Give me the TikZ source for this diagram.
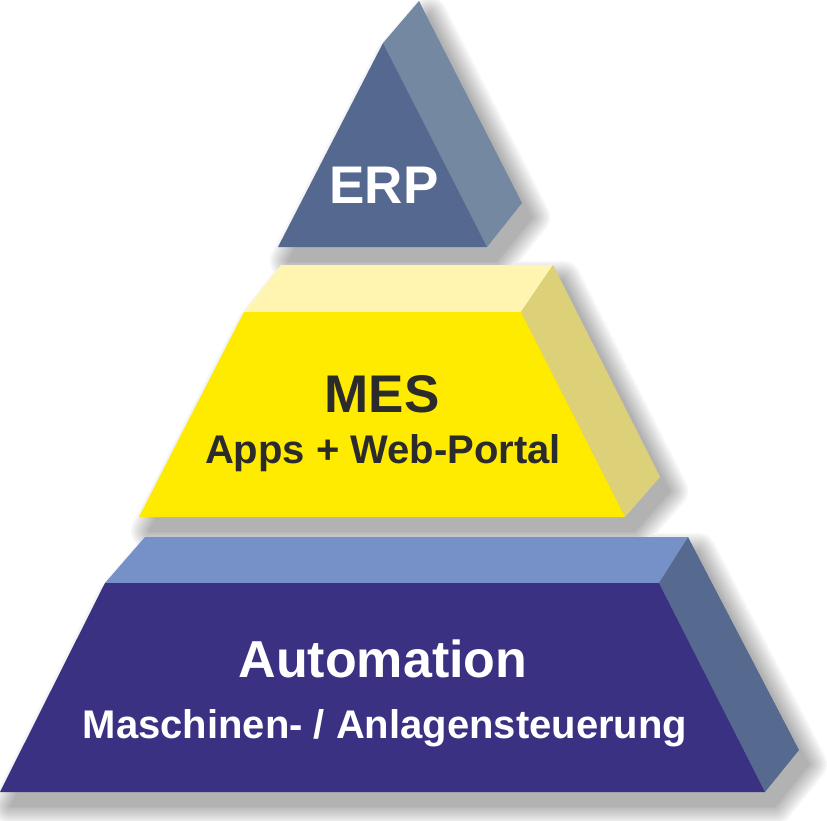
\documentclass[tikz,border=0pt]{standalone}
\usepackage{fontspec}
\setmainfont{Liberation Sans}
\usetikzlibrary{calc}
\definecolor{erpfront}{HTML}{55688F}
\definecolor{erpside}{HTML}{7588A2}
\definecolor{mesfront}{HTML}{FFEB00}
\definecolor{mestop}{HTML}{FFF5B0}
\definecolor{messide}{HTML}{DCD078}
\definecolor{mestext}{HTML}{2B2B2B}
\definecolor{autofront}{HTML}{3A3183}
\definecolor{autotop}{HTML}{7690C8}
\definecolor{autoside}{HTML}{56698F}
\tikzset{
  softshadow/.style={fill=black,draw=black,line width=#1,line join=round},
  bigtext/.style={font=\bfseries\fontsize{#1}{#1}\selectfont,inner sep=0pt,anchor=base},
}

\begin{document}
\begin{tikzpicture}[x=1pt,y=-1pt]
    \useasboundingbox (0,0) rectangle (827,820);
    % blurred shadows
    \begin{scope}[shift={(10,14)}]
      \foreach \w in {0,4,...,36}{
        \begin{scope}[transparency group,opacity=0.035]
          \path[softshadow=\w pt](278,247)--(383,43)--(419,1)--(522,203)--(487,247)--cycle;
          \path[softshadow=\w pt](139,517)--(244,312)--(281,265)--(553,265)--(660,477)--(625,517)--cycle;
          \path[softshadow=\w pt](0,792)--(105,583)--(145,537)--(688,537)--(799,750)--(765,792)--cycle;
        \end{scope}
      }
    \end{scope}
    % ERP
    \coordinate (EL) at (278,247);
    \coordinate (ET) at (383,43);
    \coordinate (ER) at (487,247);
    \coordinate (EBT) at (419,1);
    \coordinate (EBR) at (522,203);
    \fill[erpside](ET)--(EBT)--(EBR)--(ER)--cycle;
    \fill[erpfront](EL)--(ET)--(ER)--cycle;
    % MES
    \coordinate (ML) at (139,517);
    \coordinate (MTL) at (244,312);
    \coordinate (MTR) at (521,312);
    \coordinate (MR) at (625,517);
    \coordinate (MBL) at (281,265);
    \coordinate (MBR) at (553,265);
    \coordinate (MBB) at (660,477);
    \fill[mestop](MTL)--(MBL)--(MBR)--(MTR)--cycle;
    \fill[messide](MTR)--(MBR)--(MBB)--(MR)--cycle;
    \fill[mesfront](ML)--(MTL)--(MTR)--(MR)--cycle;
    % Automation
    \coordinate (AL) at (0,792);
    \coordinate (ATL) at (105,583);
    \coordinate (ATR) at (659,583);
    \coordinate (AR) at (765,792);
    \coordinate (ABL) at (145,537);
    \coordinate (ABR) at (688,537);
    \coordinate (ABB) at (799,750);
    \fill[autotop](ATL)--(ABL)--(ABR)--(ATR)--cycle;
    \fill[autoside](ATR)--(ABR)--(ABB)--(AR)--cycle;
    \fill[autofront](AL)--(ATL)--(ATR)--(AR)--cycle;
    % labels
    \node[bigtext=53,white] (erp) at (384,203) {ERP};
    \node[bigtext=53,mestext] (mes) at (382,412) {MES};
    \node[bigtext=40,mestext] (mesapps) at (383,463) {Apps + Web-Portal};
    \node[bigtext=52,white] (auto) at (383,677) {Automation};
    \node[bigtext=40,white] (autoctrl) at (385,738) {Maschinen- / Anlagensteuerung};
  \end{tikzpicture}
\end{document}
